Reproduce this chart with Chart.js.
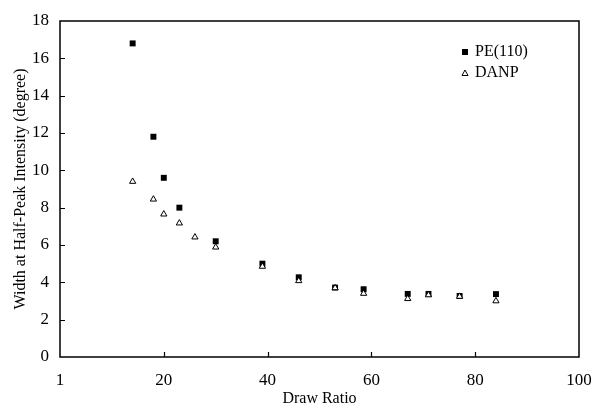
<!DOCTYPE html>
<html>
<head>
<meta charset="utf-8">
<script src="https://cdn.jsdelivr.net/npm/chart.js@4"></script>
<style>
  html, body { margin: 0; padding: 0; background: #fff; }
  #wrap { width: 592px; height: 410px; }
</style>
</head>
<body>
<div id="wrap"><canvas id="myChart"></canvas></div>
<script>
const drawRatio = [14, 18, 20, 23, 30, 39, 46, 53, 58.5, 67, 71, 77, 84];
const pe110 = [16.8, 11.8, 9.6, 8.0, 6.2, 5.0, 4.27, 3.72, 3.63, 3.38, 3.38, 3.27, 3.37];

const danpRatio = [14, 18, 20, 23, 26, 30, 39, 46, 53, 58.5, 67, 71, 77, 84];
const danp = [9.4, 8.45, 7.65, 7.17, 6.42, 5.88, 4.85, 4.08, 3.7, 3.4, 3.12, 3.32, 3.24, 3.0];

const xTicks = [0, 20, 40, 60, 80, 100];
const xTickLabels = ['1', '20', '40', '60', '80', '100'];
const yTicks = [0, 2, 4, 6, 8, 10, 12, 14, 16, 18];

const serif = '"Liberation Serif", "DejaVu Serif", serif';

const toPoints = (xs, ys) => xs.map((x, i) => ({ x: x, y: ys[i] }));

// frame, inward tick marks and the small legend in the top right
const framePlugin = {
  id: 'frame',
  afterDraw(chart) {
    const { ctx, chartArea: a, scales } = chart;
    ctx.save();
    ctx.strokeStyle = '#000';
    ctx.lineWidth = 1.5;
    ctx.strokeRect(a.left, a.top, a.right - a.left, a.bottom - a.top);

    ctx.lineWidth = 1.2;
    ctx.beginPath();
    xTicks.slice(1, -1).forEach(v => {
      const px = Math.round(scales.x.getPixelForValue(v)) + 0.5;
      ctx.moveTo(px, a.bottom);
      ctx.lineTo(px, a.bottom - 5);
    });
    yTicks.slice(1, -1).forEach(v => {
      const py = Math.round(scales.y.getPixelForValue(v)) + 0.5;
      ctx.moveTo(a.left, py);
      ctx.lineTo(a.left + 5, py);
    });
    ctx.stroke();

    // legend
    const lx = 465, ly = [52, 73];
    ctx.font = '16px ' + serif;
    ctx.textBaseline = 'middle';
    ctx.fillStyle = '#000';
    ctx.fillText(chart.data.datasets[0].label, lx + 10, ly[0]);
    ctx.fillText(chart.data.datasets[1].label, lx + 10, ly[1]);
    ctx.fillRect(lx - 3, ly[0] - 3, 6, 6);
    ctx.lineWidth = 1;
    ctx.beginPath();
    ctx.moveTo(lx, ly[1] - 3);
    ctx.lineTo(lx + 3, ly[1] + 2.5);
    ctx.lineTo(lx - 3, ly[1] + 2.5);
    ctx.closePath();
    ctx.stroke();
    ctx.restore();
  }
};

const ctx = document.getElementById('myChart');

new Chart(ctx, {
  type: 'scatter',
  data: {
    datasets: [{
      label: 'PE(110)',
      data: toPoints(drawRatio, pe110),
      pointStyle: 'rect',
      pointRadius: 4.2,
      backgroundColor: '#000',
      borderColor: '#000',
      borderWidth: 0,
      order: 2
    }, {
      label: 'DANP',
      data: toPoints(danpRatio, danp),
      pointStyle: 'triangle',
      pointRadius: 3.6,
      backgroundColor: '#fff',
      borderColor: '#000',
      borderWidth: 1,
      order: 1
    }]
  },
  options: {
    responsive: true,
    maintainAspectRatio: false,
    animation: false,
    layout: { padding: { top: 21, right: 13, left: 0, bottom: 0 } },
    plugins: {
      legend: { display: false },
      tooltip: { enabled: false }
    },
    scales: {
      x: {
        type: 'linear',
        min: 0,
        max: 100,
        afterFit: s => { s.height = 53; s.paddingLeft = 0; s.paddingRight = 0; },
        afterBuildTicks: s => { s.ticks = xTicks.map(v => ({ value: v })); },
        grid: { display: false, drawTicks: false },
        border: { display: false },
        ticks: {
          padding: 13,
          color: '#000',
          font: { family: serif, size: 17 },
          maxRotation: 0,
          callback: (v) => xTickLabels[xTicks.indexOf(v)]
        },
        title: {
          display: true,
          text: 'Draw Ratio',
          color: '#000',
          font: { family: serif, size: 16 },
          padding: { top: 0, bottom: 2 }
        }
      },
      y: {
        type: 'linear',
        min: 0,
        max: 18,
        afterFit: s => { s.width = 60; s.paddingTop = 0; s.paddingBottom = 0; },
        afterBuildTicks: s => { s.ticks = yTicks.map(v => ({ value: v })); },
        grid: { display: false, drawTicks: false },
        border: { display: false },
        ticks: {
          padding: 11,
          color: '#000',
          font: { family: serif, size: 17 }
        },
        title: {
          display: true,
          text: 'Width at Half-Peak Intensity (degree)',
          color: '#000',
          font: { family: serif, size: 16 },
          padding: { top: 11, bottom: 0 }
        }
      }
    }
  },
  plugins: [framePlugin]
});
</script>
</body>
</html>
